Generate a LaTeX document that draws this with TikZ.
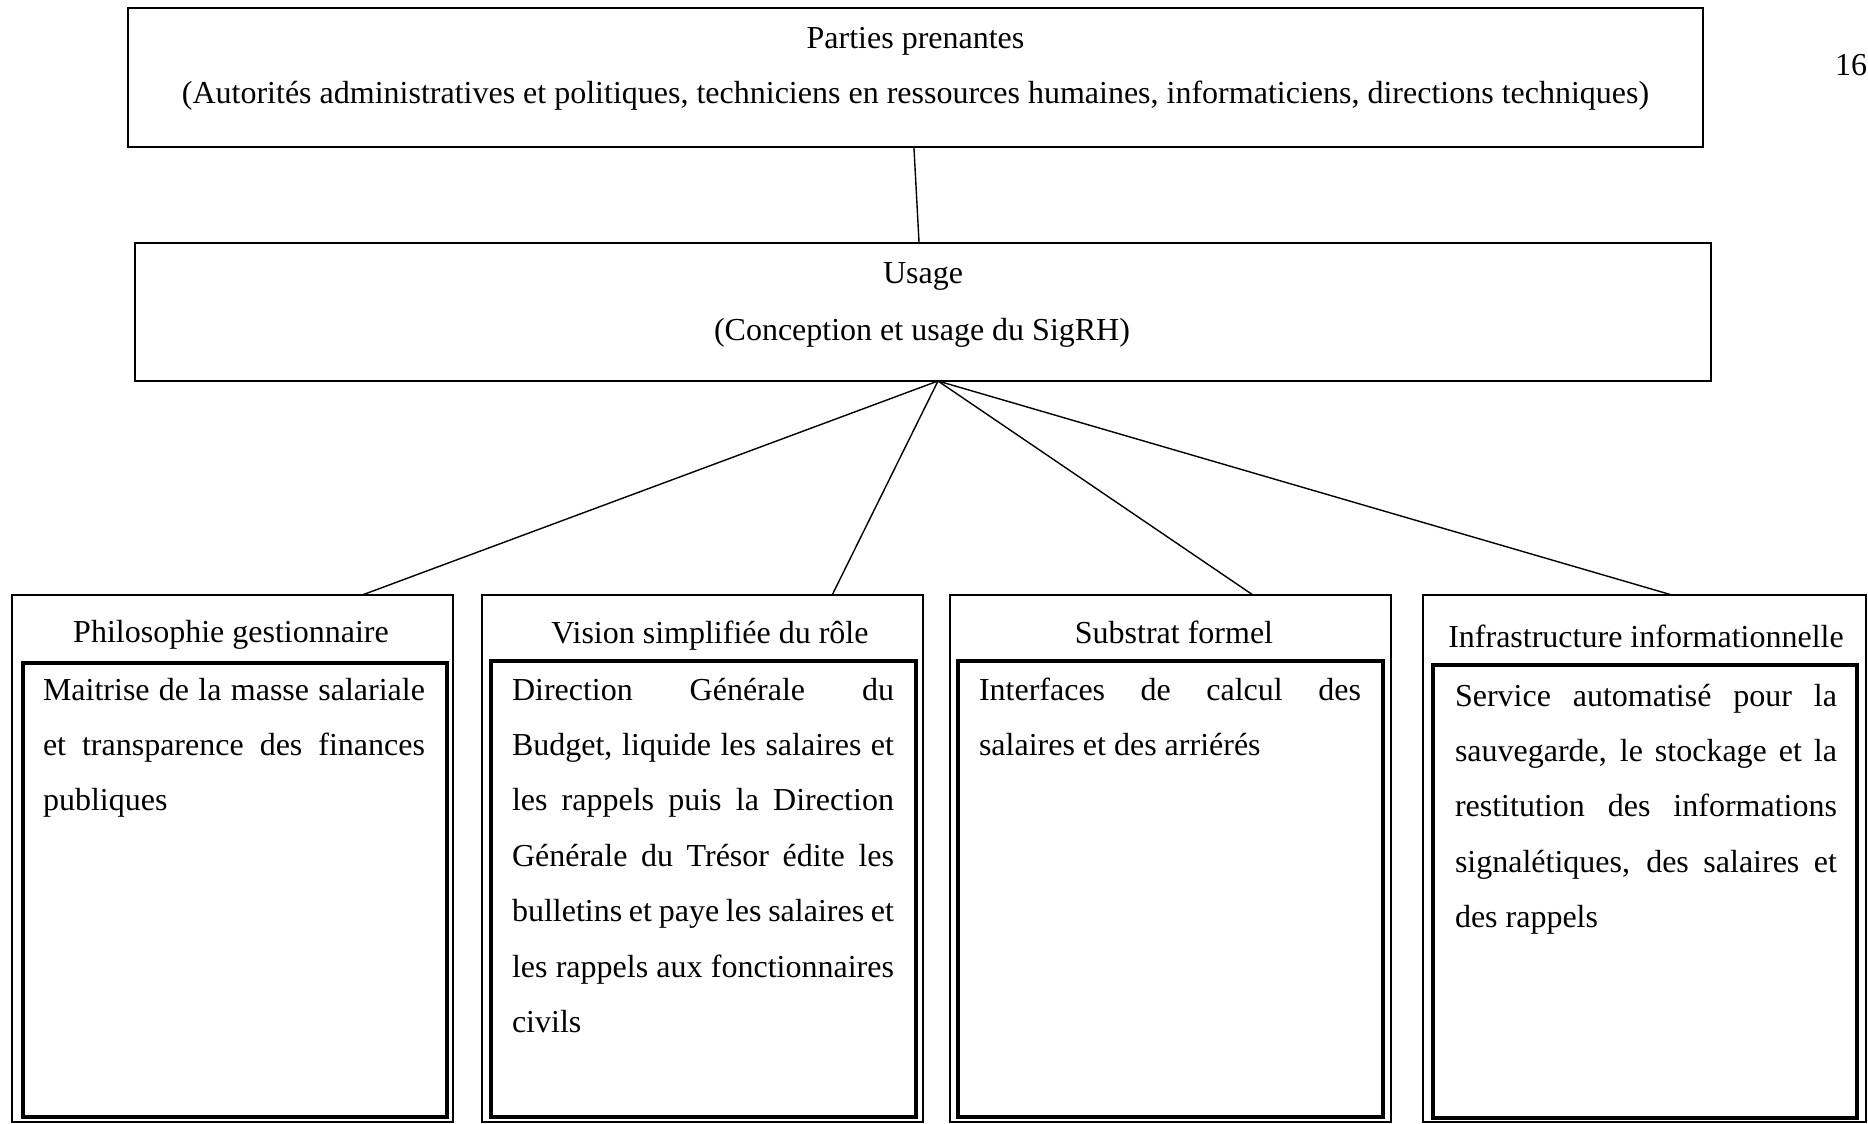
\documentclass[tikz,border=0pt]{standalone}
\usepackage{fontspec}
\setmainfont{Liberation Serif}
\usetikzlibrary{calc}
\newcommand{\jl}[1]{\makebox[191pt][s]{#1}\\}
\begin{document}
\begin{tikzpicture}[x=0.5pt,y=-0.5pt,
  txt/.style={font=\fontsize{16pt}{27.7pt}\selectfont, inner sep=0pt, outer sep=0pt},
  bigbox/.style={draw, line width=1.2pt, inner sep=0pt, outer sep=0pt, anchor=north west},
  outbox/.style={draw, line width=1.1pt, inner sep=0pt, outer sep=0pt, anchor=north west,
                 minimum width=220.5pt, minimum height=263.5pt},
  inbox/.style={draw, line width=1.6pt, inner sep=0pt, outer sep=0pt, anchor=north west},
  body/.style={txt, anchor=base west, text width=191pt, align=justify},
  link/.style={line width=0.7pt}]
\useasboundingbox (0,0) rectangle (1868,1124);
\clip (0,0) rectangle (1868,1124);

% top boxes
\node[bigbox, minimum width=787.5pt, minimum height=69.5pt] (top) at (128,8) {};
\node[txt, anchor=base] (toptitle) at (915.5,48) {Parties prenantes};
\node[txt, anchor=base] (topsub) at (915.5,103) {(Autorités administratives et politiques, techniciens en ressources humaines, informaticiens, directions techniques)};

\node[bigbox, minimum width=788pt, minimum height=69pt] (usage) at (135,243) {};
\node[txt, anchor=base] (usetitle) at (923,283) {Usage};
\node[txt, anchor=base] (usesub) at (922,340) {(Conception et usage du SigRH)};

\node[txt, anchor=base west] (page) at (1835,75) {167};

% bottom boxes
\node[outbox] (b1) at (12,595) {};
\node[outbox] (b2) at (482,595) {};
\node[outbox] (b3) at (950,595) {};
\node[outbox, minimum width=221.5pt] (b4) at (1423,595) {};

\node[inbox, minimum width=212pt, minimum height=227pt] (b1i) at (23,663) {};
\node[inbox, minimum width=212.5pt, minimum height=228pt] (b2i) at (491,661) {};
\node[inbox, minimum width=212.5pt, minimum height=228pt] (b3i) at (958,661) {};
\node[inbox, minimum width=212pt, minimum height=226.5pt] (b4i) at (1433,665) {};

\node[txt, anchor=base] (h1) at (231,642) {Philosophie gestionnaire};
\node[txt, anchor=base] (h2) at (710,643) {Vision simplifiée du rôle};
\node[txt, anchor=base] (h3) at (1174,643) {Substrat formel};
\node[txt, anchor=base] (h4) at (1646,647) {Infrastructure informationnelle};

\node[body] (t1) at (43,700) {\jl{Maitrise de la masse salariale}\jl{et transparence des finances}publiques};
\node[body] (t2) at (512,700) {\jl{Direction Générale du}\jl{Budget, liquide les salaires et}\jl{les rappels puis la Direction}\jl{Générale du Trésor édite les}\jl{bulletins et paye les salaires et}\jl{les rappels aux fonctionnaires}civils};
\node[body] (t3) at (979,700) {\jl{Interfaces de calcul des}salaires et des arriérés};
\node[body] (t4) at (1455,706) {\jl{Service automatisé pour la}\jl{sauvegarde, le stockage et la}\jl{restitution des informations}\jl{signalétiques, des salaires et}des rappels};

% connectors
\coordinate (hub) at ($(usage.south west)!0.5095!(usage.south east)$);
\draw[link] ($(top.south west)!0.499!(top.south east)$) -- ($(usage.north west)!0.4975!(usage.north east)$);
\draw[link] (hub) -- ($(b1.north west)!0.794!(b1.north east)$);
\draw[link] (hub) -- ($(b2.north west)!0.794!(b2.north east)$);
\draw[link] (hub) -- ($(b3.north west)!0.687!(b3.north east)$);
\draw[link] (hub) -- ($(b4.north west)!0.562!(b4.north east)$);
\end{tikzpicture}
\end{document}
